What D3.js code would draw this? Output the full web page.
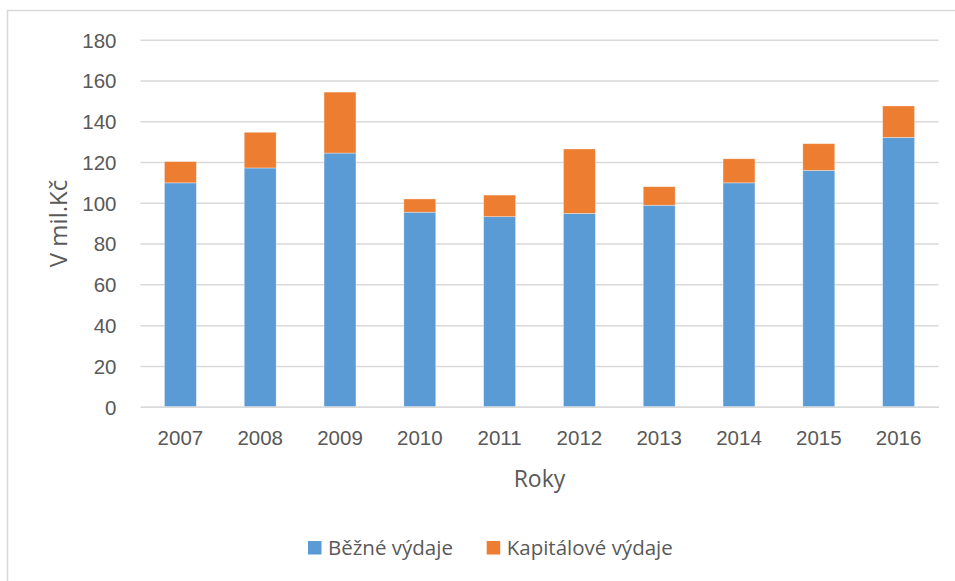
<!DOCTYPE html>
<html>
<head>
<meta charset="utf-8">
<script src="https://cdn.jsdelivr.net/npm/d3@7"></script>
<style>
  html, body { margin: 0; padding: 0; background: #fff; }
  svg { display: block; font-family: "Open Sans", "Noto Sans", sans-serif; }
</style>
</head>
<body>
<svg id="chart" width="955" height="581"></svg>
<script>
// Výdaje v mil. Kč podle roku
const years = ["2007", "2008", "2009", "2010", "2011", "2012", "2013", "2014", "2015", "2016"];
const bezne = [109.8, 117.1, 124.4, 95.4, 93.2, 94.8, 98.8, 109.8, 115.9, 132.1];
const kapitalove = [10.4, 17.5, 29.9, 6.5, 10.6, 31.6, 9.1, 11.8, 13.1, 15.4];
const yTicks = [0, 20, 40, 60, 80, 100, 120, 140, 160, 180];
const seriesNames = ["Běžné výdaje", "Kapitálové výdaje"];
const seriesColors = ["#5b9bd5", "#ed7d31"];

const svg = d3.select("#chart");
const W = 955, H = 581;
const plot = { left: 140.5, right: 938.5, top: 39.7, bottom: 406.7 };
const textColor = "#595959";

// Chart frame
svg.append("rect")
  .attr("x", 7.5).attr("y", 10.5)
  .attr("width", W + 10).attr("height", H + 10)
  .attr("fill", "#fff")
  .attr("stroke", "#d9d9d9").attr("stroke-width", 1.5);

const x = d3.scaleBand()
  .domain(years)
  .range([plot.left, plot.right])
  .paddingInner(0.6)
  .paddingOuter(0.3);

const y = d3.scaleLinear()
  .domain([0, 180])
  .range([plot.bottom, plot.top]);

// Horizontal gridlines + y tick labels
const yAxis = d3.axisLeft(y)
  .tickValues(yTicks)
  .tickSize(-(plot.right - plot.left))
  .tickPadding(24)
  .tickFormat(d3.format("d"));

const gy = svg.append("g")
  .attr("transform", `translate(${plot.left},0)`)
  .call(yAxis);
gy.select(".domain").remove();
gy.selectAll(".tick line")
  .attr("stroke", "#d9d9d9").attr("stroke-width", 1.5);
gy.selectAll(".tick text")
  .attr("fill", textColor)
  .attr("font-size", "20.5px")
  .attr("dy", "0.36em");

// Stacked bars
const stacked = d3.stack().keys([0, 1])(years.map((yr, i) => ({ year: yr, 0: bezne[i], 1: kapitalove[i] })));

svg.append("g")
  .selectAll("g")
  .data(stacked)
  .join("g")
  .attr("fill", (d, i) => seriesColors[i])
  .selectAll("rect")
  .data(d => d)
  .join("rect")
  .attr("x", d => x(d.data.year))
  .attr("width", x.bandwidth())
  .attr("y", d => y(d[1]))
  .attr("height", d => y(d[0]) - y(d[1]))
  .attr("stroke", "#ffffff")
  .attr("stroke-opacity", 0.45)
  .attr("stroke-width", 0.75);

// X axis
const xAxis = d3.axisBottom(x).tickSize(0).tickPadding(24);
const gx = svg.append("g")
  .attr("transform", `translate(0,${plot.bottom})`)
  .call(xAxis);
gx.select(".domain")
  .attr("stroke", "#d9d9d9").attr("stroke-width", 1.5);
gx.selectAll(".tick text")
  .attr("fill", textColor)
  .attr("font-size", "20.5px");

// Axis titles
svg.append("text")
  .attr("x", (plot.left + plot.right) / 2)
  .attr("y", 486.5)
  .attr("text-anchor", "middle")
  .attr("fill", textColor)
  .attr("font-size", "23px")
  .text("Roky");

svg.append("text")
  .attr("transform", `translate(67,223.5) rotate(-90)`)
  .attr("text-anchor", "middle")
  .attr("fill", textColor)
  .attr("font-size", "24px")
  .text("V mil.Kč");

// Legend
const legendX = [308, 486.7];
const legend = svg.append("g");
seriesNames.forEach((name, i) => {
  legend.append("rect")
    .attr("x", legendX[i]).attr("y", 541)
    .attr("width", 13.5).attr("height", 13.5)
    .attr("fill", seriesColors[i]);
  legend.append("text")
    .attr("x", legendX[i] + 20).attr("y", 555)
    .attr("fill", textColor)
    .attr("font-size", "20.5px")
    .text(name);
});
</script>
</body>
</html>
